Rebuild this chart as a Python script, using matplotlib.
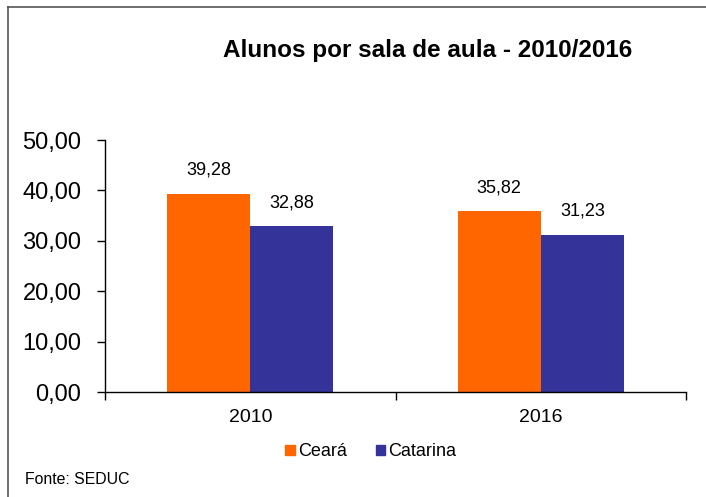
import matplotlib
matplotlib.use("Agg")
import matplotlib.pyplot as plt
from matplotlib.lines import Line2D
from matplotlib.patches import Rectangle
import numpy as np

categories = ["2010", "2016"]
series_names = ["Ceará", "Catarina"]
ceara = [39.28, 35.82]
catarina = [32.88, 31.23]
yticks = [0, 10, 20, 30, 40, 50]
colors = ["#FF6600", "#333399"]

plt.rcParams['font.family'] = ['Liberation Sans', 'DejaVu Sans']

W, H = 706, 497
fig = plt.figure(figsize=(W/100, H/100), dpi=100)
ax = fig.add_axes([105/W, 1-392/H, (686-105)/W, (392-140)/H])

x = np.arange(len(categories))
bw = 0.286
vals = [ceara, catarina]
for i, (name, v) in enumerate(zip(series_names, vals)):
    pos = x + (i - 0.5) * bw
    ax.bar(pos, v, width=bw, color=colors[i], label=name)
    for p, val in zip(pos, v):
        ax.text(p, val + 3.0, f"{val:.2f}".replace(".", ","), ha="center", va="bottom",
                fontsize=13)

ax.set_xlim(-0.5, len(categories) - 0.5)
ax.set_ylim(0, 50)
ax.set_yticks(yticks)
ax.set_yticklabels([f"{t:.2f}".replace(".", ",") for t in yticks], fontsize=17)
ax.set_xticks(x)
ax.set_xticklabels(categories, fontsize=14)
ax.tick_params(axis='x', length=0, pad=12)
ax.set_xticks([-0.5, 0.5, 1.5], minor=True)
ax.tick_params(axis='x', which='minor', length=6, direction='out', width=1)
ax.tick_params(axis='y', length=6, direction='out', width=1, pad=11)
for s in ['top', 'right']:
    ax.spines[s].set_visible(False)
for s in ['left', 'bottom']:
    ax.spines[s].set_linewidth(1)
    ax.spines[s].set_color('black')

fig.text(428/W, 1-50/H, "Alunos por sala de aula - 2010/2016", ha="center", va="center",
         fontsize=17.5, fontweight="bold")

fig.legend(handles=[Rectangle((0, 0), 1, 1, color=c) for c in colors], labels=series_names,
           loc="center", bbox_to_anchor=(371/W, 1-452/H), ncol=2, frameon=False,
           handlelength=0.5, handleheight=0.5, handletextpad=0.2,
           columnspacing=1.6, prop={'size': 13})

fig.text(25/W, 1-480/H, "Fonte: SEDUC", ha="left", va="center", fontsize=11.4)

fig.add_artist(Line2D([8/W, 8/W], [0, 1-7/H], color="#555555", lw=1.2, transform=fig.transFigure))
fig.add_artist(Line2D([8/W, 1], [1-7/H, 1-7/H], color="#555555", lw=1.2, transform=fig.transFigure))

fig.savefig("out.png", dpi=100)
